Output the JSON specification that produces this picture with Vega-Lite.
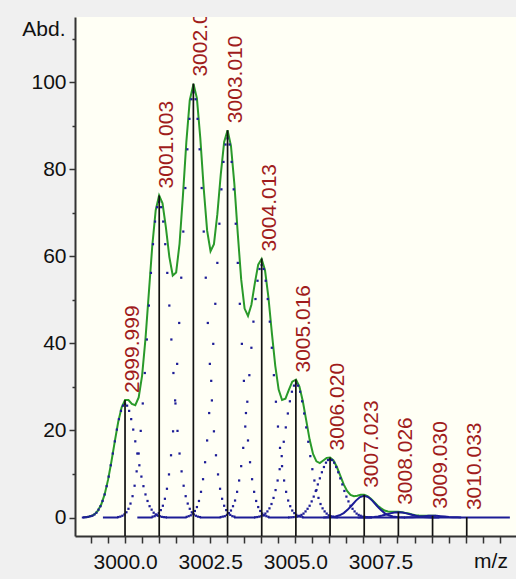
{
"$schema": "https://vega.github.io/schema/vega-lite/v6.json",
"width": 441, "height": 519,
"autosize": {"type": "none"},
"padding": {"left": 75, "top": 17, "right": 0, "bottom": 43},
"background": "#f0f0f0",
"config": {"view": {"fill": "#fffff5", "stroke": null}, "font": "Liberation Sans"},
"datasets": {
"env": [
{"x":2998.8,"y":0.04},{"x":2998.9,"y":0.12},{"x":2999.0,"y":0.31},{"x":2999.1,"y":0.73},{"x":2999.2,"y":1.54},{"x":2999.3,"y":2.98},{"x":2999.4,"y":5.3},{"x":2999.5,"y":8.64},{"x":2999.6,"y":12.87},{"x":2999.7,"y":17.54},{"x":2999.8,"y":22.0},{"x":2999.9,"y":25.3},
{"x":3000.0,"y":27.0},{"x":3000.1,"y":27.0},{"x":3000.2,"y":26.1},{"x":3000.3,"y":25.8},{"x":3000.4,"y":27.6},{"x":3000.5,"y":32.6},{"x":3000.6,"y":41.1},{"x":3000.7,"y":51.8},{"x":3000.8,"y":62.5},{"x":3000.9,"y":70.6},
{"x":3001.0,"y":74.0},{"x":3001.1,"y":72.2},{"x":3001.2,"y":66.6},{"x":3001.3,"y":59.9},{"x":3001.4,"y":55.6},{"x":3001.5,"y":56.3},{"x":3001.6,"y":62.9},{"x":3001.7,"y":74.0},{"x":3001.8,"y":86.3},{"x":3001.9,"y":95.9},
{"x":3002.01,"y":99.6},{"x":3002.11,"y":96.3},{"x":3002.21,"y":87.1},{"x":3002.31,"y":75.6},{"x":3002.41,"y":65.9},{"x":3002.51,"y":61.2},{"x":3002.61,"y":62.8},{"x":3002.71,"y":69.7},{"x":3002.81,"y":78.8},{"x":3002.91,"y":86.3},
{"x":3003.01,"y":89.0},{"x":3003.11,"y":85.4},{"x":3003.21,"y":76.6},{"x":3003.31,"y":65.2},{"x":3003.41,"y":54.7},{"x":3003.51,"y":48.0},{"x":3003.61,"y":46.3},{"x":3003.71,"y":48.9},{"x":3003.81,"y":53.8},{"x":3003.91,"y":58.1},
{"x":3004.01,"y":59.4},{"x":3004.11,"y":56.8},{"x":3004.21,"y":50.6},{"x":3004.31,"y":42.5},{"x":3004.41,"y":34.9},{"x":3004.51,"y":29.4},{"x":3004.61,"y":27.0},{"x":3004.71,"y":27.3},{"x":3004.81,"y":29.3},{"x":3004.91,"y":31.2},
{"x":3005.02,"y":31.7},{"x":3005.12,"y":30.1},{"x":3005.22,"y":26.7},{"x":3005.32,"y":22.3},{"x":3005.42,"y":17.9},{"x":3005.52,"y":14.6},{"x":3005.62,"y":12.9},{"x":3005.72,"y":12.5},{"x":3005.82,"y":13.1},{"x":3005.92,"y":13.7},
{"x":3006.02,"y":13.8},{"x":3006.12,"y":13.1},{"x":3006.22,"y":11.6},{"x":3006.32,"y":9.6},{"x":3006.42,"y":7.6},{"x":3006.52,"y":6.1},{"x":3006.62,"y":5.2},{"x":3006.72,"y":4.9},{"x":3006.82,"y":5.0},{"x":3006.92,"y":5.2},
{"x":3007.02,"y":5.2},{"x":3007.12,"y":4.9},{"x":3007.22,"y":4.3},{"x":3007.32,"y":3.5},{"x":3007.42,"y":2.7},{"x":3007.52,"y":2.1},{"x":3007.62,"y":1.6},{"x":3007.72,"y":1.4},{"x":3007.82,"y":1.3},{"x":3007.92,"y":1.3},
{"x":3008.03,"y":1.3},{"x":3008.13,"y":1.2},{"x":3008.23,"y":1.05},{"x":3008.33,"y":0.9},{"x":3008.43,"y":0.7},{"x":3008.53,"y":0.54},{"x":3008.63,"y":0.45},{"x":3008.73,"y":0.41},{"x":3008.83,"y":0.41},{"x":3008.93,"y":0.41},
{"x":3009.03,"y":0.42},{"x":3009.13,"y":0.39}
],
"blines": [
{"s":"b0","x":2998.73,"y":0},{"s":"b0","x":2998.8,"y":0},
{"s":"b1","x":2999.35,"y":0},{"s":"b1","x":2999.8,"y":0},
{"s":"b2","x":3000.36,"y":0},{"s":"b2","x":3000.81,"y":0},
{"s":"b3","x":3001.2,"y":0},{"s":"b3","x":3001.81,"y":0},
{"s":"b4","x":3002.2,"y":0},{"s":"b4","x":3002.81,"y":0},
{"s":"b5","x":3003.2,"y":0},{"s":"b5","x":3003.82,"y":0},
{"s":"b6","x":3004.2,"y":0},{"s":"b6","x":3004.82,"y":0},
{"s":"b7","x":3005.2,"y":0},{"s":"b7","x":3011.3,"y":0},
{"s":"k7","x":3005.82,"y":0.01},{"s":"k7","x":3005.94,"y":0.03},{"s":"k7","x":3006.06,"y":0.09},{"s":"k7","x":3006.18,"y":0.22},{"s":"k7","x":3006.3,"y":0.51},{"s":"k7","x":3006.42,"y":1.02},{"s":"k7","x":3006.54,"y":1.81},{"s":"k7","x":3006.66,"y":2.82},{"s":"k7","x":3006.78,"y":3.88},{"s":"k7","x":3006.9,"y":4.69},{"s":"k7","x":3007.02,"y":5.0},{"s":"k7","x":3007.14,"y":4.69},{"s":"k7","x":3007.26,"y":3.88},{"s":"k7","x":3007.38,"y":2.82},{"s":"k7","x":3007.5,"y":1.81},{"s":"k7","x":3007.62,"y":1.02},{"s":"k7","x":3007.74,"y":0.51},{"s":"k7","x":3007.86,"y":0.22},{"s":"k7","x":3007.98,"y":0.09},{"s":"k7","x":3008.1,"y":0.03},{"s":"k7","x":3008.22,"y":0.01},
{"s":"k8","x":3006.83,"y":0},{"s":"k8","x":3006.95,"y":0.01},{"s":"k8","x":3007.07,"y":0.02},{"s":"k8","x":3007.19,"y":0.05},{"s":"k8","x":3007.31,"y":0.12},{"s":"k8","x":3007.43,"y":0.25},{"s":"k8","x":3007.55,"y":0.44},{"s":"k8","x":3007.67,"y":0.69},{"s":"k8","x":3007.79,"y":0.95},{"s":"k8","x":3007.91,"y":1.15},{"s":"k8","x":3008.03,"y":1.23},{"s":"k8","x":3008.15,"y":1.15},{"s":"k8","x":3008.27,"y":0.95},{"s":"k8","x":3008.39,"y":0.69},{"s":"k8","x":3008.51,"y":0.44},{"s":"k8","x":3008.63,"y":0.25},{"s":"k8","x":3008.75,"y":0.12},{"s":"k8","x":3008.87,"y":0.05},{"s":"k8","x":3008.99,"y":0.02},{"s":"k8","x":3009.11,"y":0.01},{"s":"k8","x":3009.23,"y":0},
{"s":"k9","x":3008.19,"y":0},{"s":"k9","x":3008.31,"y":0.04},{"s":"k9","x":3008.43,"y":0.08},{"s":"k9","x":3008.55,"y":0.14},{"s":"k9","x":3008.67,"y":0.23},{"s":"k9","x":3008.79,"y":0.31},{"s":"k9","x":3008.91,"y":0.38},{"s":"k9","x":3009.03,"y":0.4},{"s":"k9","x":3009.15,"y":0.38},{"s":"k9","x":3009.27,"y":0.31},{"s":"k9","x":3009.39,"y":0.23},{"s":"k9","x":3009.51,"y":0.14},{"s":"k9","x":3009.63,"y":0.08},{"s":"k9","x":3009.75,"y":0.04},{"s":"k9","x":3009.87,"y":0}
],
"dots": [
{"g":0,"x":2998.8,"y":0.04},{"g":0,"x":2998.86,"y":0.08},{"g":0,"x":2998.92,"y":0.15},{"g":0,"x":2998.98,"y":0.3},{"g":0,"x":2999.04,"y":0.4},{"g":0,"x":2999.1,"y":0.7},{"g":0,"x":2999.16,"y":1.1},{"g":0,"x":2999.22,"y":1.8},{"g":0,"x":2999.28,"y":2.6},{"g":0,"x":2999.34,"y":3.8},{"g":0,"x":2999.4,"y":5.3},{"g":0,"x":2999.46,"y":7.2},{"g":0,"x":2999.52,"y":9.4},{"g":0,"x":2999.58,"y":12.0},{"g":0,"x":2999.64,"y":14.7},{"g":0,"x":2999.7,"y":17.5},{"g":0,"x":2999.76,"y":20.2},{"g":0,"x":2999.82,"y":22.6},{"g":0,"x":2999.88,"y":24.5},{"g":0,"x":2999.94,"y":25.7},{"g":0,"x":3000.0,"y":26.1},{"g":0,"x":3000.06,"y":25.7},{"g":0,"x":3000.12,"y":24.5},{"g":0,"x":3000.18,"y":22.6},{"g":0,"x":3000.24,"y":20.2},{"g":0,"x":3000.3,"y":17.5},{"g":0,"x":3000.36,"y":14.7},{"g":0,"x":3000.42,"y":12.0},{"g":0,"x":3000.48,"y":9.4},{"g":0,"x":3000.54,"y":7.2},{"g":0,"x":3000.6,"y":5.3},{"g":0,"x":3000.66,"y":3.8},{"g":0,"x":3000.72,"y":2.6},{"g":0,"x":3000.78,"y":1.8},{"g":0,"x":3000.84,"y":1.1},{"g":0,"x":3000.9,"y":0.7},{"g":0,"x":3000.96,"y":0.4},{"g":0,"x":3001.02,"y":0.3},{"g":0,"x":3001.08,"y":0.15},{"g":0,"x":3001.14,"y":0.08},{"g":0,"x":3001.2,"y":0.04},
{"g":1,"x":2999.8,"y":0.1},{"g":1,"x":2999.86,"y":0.2},{"g":1,"x":2999.92,"y":0.4},{"g":1,"x":2999.98,"y":0.7},{"g":1,"x":3000.04,"y":1.2},{"g":1,"x":3000.1,"y":2.0},{"g":1,"x":3000.16,"y":3.2},{"g":1,"x":3000.22,"y":4.9},{"g":1,"x":3000.28,"y":7.3},{"g":1,"x":3000.34,"y":10.6},{"g":1,"x":3000.4,"y":14.7},{"g":1,"x":3000.46,"y":19.9},{"g":1,"x":3000.52,"y":26.2},{"g":1,"x":3000.58,"y":33.2},{"g":1,"x":3000.64,"y":40.9},{"g":1,"x":3000.7,"y":48.7},{"g":1,"x":3000.76,"y":56.2},{"g":1,"x":3000.82,"y":62.8},{"g":1,"x":3000.88,"y":68.0},{"g":1,"x":3000.94,"y":71.3},{"g":1,"x":3001.0,"y":72.5},{"g":1,"x":3001.06,"y":71.3},{"g":1,"x":3001.12,"y":68.0},{"g":1,"x":3001.18,"y":62.8},{"g":1,"x":3001.24,"y":56.2},{"g":1,"x":3001.3,"y":48.7},{"g":1,"x":3001.36,"y":40.9},{"g":1,"x":3001.42,"y":33.2},{"g":1,"x":3001.48,"y":26.2},{"g":1,"x":3001.54,"y":19.9},{"g":1,"x":3001.6,"y":14.7},{"g":1,"x":3001.66,"y":10.6},{"g":1,"x":3001.72,"y":7.3},{"g":1,"x":3001.78,"y":4.9},{"g":1,"x":3001.84,"y":3.2},{"g":1,"x":3001.9,"y":2.0},{"g":1,"x":3001.96,"y":1.2},{"g":1,"x":3002.02,"y":0.7},{"g":1,"x":3002.08,"y":0.4},{"g":1,"x":3002.14,"y":0.2},{"g":1,"x":3002.2,"y":0.1},
{"g":2,"x":3000.81,"y":0.2},{"g":2,"x":3000.87,"y":0.3},{"g":2,"x":3000.93,"y":0.6},{"g":2,"x":3000.99,"y":1.0},{"g":2,"x":3001.05,"y":1.7},{"g":2,"x":3001.11,"y":2.7},{"g":2,"x":3001.17,"y":4.3},{"g":2,"x":3001.23,"y":6.6},{"g":2,"x":3001.29,"y":9.9},{"g":2,"x":3001.35,"y":14.3},{"g":2,"x":3001.41,"y":19.8},{"g":2,"x":3001.47,"y":26.9},{"g":2,"x":3001.53,"y":35.3},{"g":2,"x":3001.59,"y":44.7},{"g":2,"x":3001.65,"y":55.1},{"g":2,"x":3001.71,"y":65.7},{"g":2,"x":3001.77,"y":75.7},{"g":2,"x":3001.83,"y":84.6},{"g":2,"x":3001.89,"y":91.6},{"g":2,"x":3001.95,"y":96.1},{"g":2,"x":3002.01,"y":97.7},{"g":2,"x":3002.07,"y":96.1},{"g":2,"x":3002.13,"y":91.6},{"g":2,"x":3002.19,"y":84.6},{"g":2,"x":3002.25,"y":75.7},{"g":2,"x":3002.31,"y":65.7},{"g":2,"x":3002.37,"y":55.1},{"g":2,"x":3002.43,"y":44.7},{"g":2,"x":3002.49,"y":35.3},{"g":2,"x":3002.55,"y":26.9},{"g":2,"x":3002.61,"y":19.8},{"g":2,"x":3002.67,"y":14.3},{"g":2,"x":3002.73,"y":9.9},{"g":2,"x":3002.79,"y":6.6},{"g":2,"x":3002.85,"y":4.3},{"g":2,"x":3002.91,"y":2.7},{"g":2,"x":3002.97,"y":1.7},{"g":2,"x":3003.03,"y":1.0},{"g":2,"x":3003.09,"y":0.6},{"g":2,"x":3003.15,"y":0.3},{"g":2,"x":3003.21,"y":0.2},
{"g":3,"x":3001.81,"y":0.15},{"g":3,"x":3001.87,"y":0.3},{"g":3,"x":3001.93,"y":0.5},{"g":3,"x":3001.99,"y":0.9},{"g":3,"x":3002.05,"y":1.5},{"g":3,"x":3002.11,"y":2.4},{"g":3,"x":3002.17,"y":3.8},{"g":3,"x":3002.23,"y":5.9},{"g":3,"x":3002.29,"y":8.8},{"g":3,"x":3002.35,"y":12.7},{"g":3,"x":3002.41,"y":17.7},{"g":3,"x":3002.47,"y":24.0},{"g":3,"x":3002.53,"y":31.4},{"g":3,"x":3002.59,"y":39.9},{"g":3,"x":3002.65,"y":49.1},{"g":3,"x":3002.71,"y":58.5},{"g":3,"x":3002.77,"y":67.5},{"g":3,"x":3002.83,"y":75.4},{"g":3,"x":3002.89,"y":81.7},{"g":3,"x":3002.95,"y":85.7},{"g":3,"x":3003.01,"y":87.1},{"g":3,"x":3003.07,"y":85.7},{"g":3,"x":3003.13,"y":81.7},{"g":3,"x":3003.19,"y":75.4},{"g":3,"x":3003.25,"y":67.5},{"g":3,"x":3003.31,"y":58.5},{"g":3,"x":3003.37,"y":49.1},{"g":3,"x":3003.43,"y":39.9},{"g":3,"x":3003.49,"y":31.4},{"g":3,"x":3003.55,"y":24.0},{"g":3,"x":3003.61,"y":17.7},{"g":3,"x":3003.67,"y":12.7},{"g":3,"x":3003.73,"y":8.8},{"g":3,"x":3003.79,"y":5.9},{"g":3,"x":3003.85,"y":3.8},{"g":3,"x":3003.91,"y":2.4},{"g":3,"x":3003.97,"y":1.5},{"g":3,"x":3004.03,"y":0.9},{"g":3,"x":3004.09,"y":0.5},{"g":3,"x":3004.15,"y":0.3},{"g":3,"x":3004.21,"y":0.15},
{"g":4,"x":3002.81,"y":0.1},{"g":4,"x":3002.87,"y":0.2},{"g":4,"x":3002.93,"y":0.3},{"g":4,"x":3002.99,"y":0.6},{"g":4,"x":3003.05,"y":1.0},{"g":4,"x":3003.11,"y":1.6},{"g":4,"x":3003.17,"y":2.6},{"g":4,"x":3003.23,"y":3.9},{"g":4,"x":3003.29,"y":5.9},{"g":4,"x":3003.35,"y":8.5},{"g":4,"x":3003.41,"y":11.8},{"g":4,"x":3003.47,"y":16.0},{"g":4,"x":3003.53,"y":20.9},{"g":4,"x":3003.59,"y":26.6},{"g":4,"x":3003.65,"y":32.7},{"g":4,"x":3003.71,"y":39.0},{"g":4,"x":3003.77,"y":45.0},{"g":4,"x":3003.83,"y":50.2},{"g":4,"x":3003.89,"y":54.4},{"g":4,"x":3003.95,"y":57.1},{"g":4,"x":3004.01,"y":58.0},{"g":4,"x":3004.07,"y":57.1},{"g":4,"x":3004.13,"y":54.4},{"g":4,"x":3004.19,"y":50.2},{"g":4,"x":3004.25,"y":45.0},{"g":4,"x":3004.31,"y":39.0},{"g":4,"x":3004.37,"y":32.7},{"g":4,"x":3004.43,"y":26.6},{"g":4,"x":3004.49,"y":20.9},{"g":4,"x":3004.55,"y":16.0},{"g":4,"x":3004.61,"y":11.8},{"g":4,"x":3004.67,"y":8.5},{"g":4,"x":3004.73,"y":5.9},{"g":4,"x":3004.79,"y":3.9},{"g":4,"x":3004.85,"y":2.6},{"g":4,"x":3004.91,"y":1.6},{"g":4,"x":3004.97,"y":1.0},{"g":4,"x":3005.03,"y":0.6},{"g":4,"x":3005.09,"y":0.3},{"g":4,"x":3005.15,"y":0.2},{"g":4,"x":3005.21,"y":0.1},
{"g":5,"x":3003.82,"y":0.05},{"g":5,"x":3003.88,"y":0.1},{"g":5,"x":3003.94,"y":0.2},{"g":5,"x":3004.0,"y":0.3},{"g":5,"x":3004.06,"y":0.5},{"g":5,"x":3004.12,"y":0.9},{"g":5,"x":3004.18,"y":1.4},{"g":5,"x":3004.24,"y":2.1},{"g":5,"x":3004.3,"y":3.1},{"g":5,"x":3004.36,"y":4.5},{"g":5,"x":3004.42,"y":6.3},{"g":5,"x":3004.48,"y":8.5},{"g":5,"x":3004.54,"y":11.1},{"g":5,"x":3004.6,"y":14.1},{"g":5,"x":3004.66,"y":17.4},{"g":5,"x":3004.72,"y":20.7},{"g":5,"x":3004.78,"y":23.9},{"g":5,"x":3004.84,"y":26.7},{"g":5,"x":3004.9,"y":28.9},{"g":5,"x":3004.96,"y":30.3},{"g":5,"x":3005.02,"y":30.8},{"g":5,"x":3005.08,"y":30.3},{"g":5,"x":3005.14,"y":28.9},{"g":5,"x":3005.2,"y":26.7},{"g":5,"x":3005.26,"y":23.9},{"g":5,"x":3005.32,"y":20.7},{"g":5,"x":3005.38,"y":17.4},{"g":5,"x":3005.44,"y":14.1},{"g":5,"x":3005.5,"y":11.1},{"g":5,"x":3005.56,"y":8.5},{"g":5,"x":3005.62,"y":6.3},{"g":5,"x":3005.68,"y":4.5},{"g":5,"x":3005.74,"y":3.1},{"g":5,"x":3005.8,"y":2.1},{"g":5,"x":3005.86,"y":1.4},{"g":5,"x":3005.92,"y":0.9},{"g":5,"x":3005.98,"y":0.5},{"g":5,"x":3006.04,"y":0.3},{"g":5,"x":3006.1,"y":0.2},{"g":5,"x":3006.16,"y":0.1},{"g":5,"x":3006.22,"y":0.05},
{"g":6,"x":3004.82,"y":0.02},{"g":6,"x":3004.88,"y":0.04},{"g":6,"x":3004.94,"y":0.08},{"g":6,"x":3005.0,"y":0.13},{"g":6,"x":3005.06,"y":0.2},{"g":6,"x":3005.12,"y":0.4},{"g":6,"x":3005.18,"y":0.6},{"g":6,"x":3005.24,"y":0.9},{"g":6,"x":3005.3,"y":1.4},{"g":6,"x":3005.36,"y":2.0},{"g":6,"x":3005.42,"y":2.7},{"g":6,"x":3005.48,"y":3.7},{"g":6,"x":3005.54,"y":4.8},{"g":6,"x":3005.6,"y":6.1},{"g":6,"x":3005.66,"y":7.6},{"g":6,"x":3005.72,"y":9.0},{"g":6,"x":3005.78,"y":10.4},{"g":6,"x":3005.84,"y":11.6},{"g":6,"x":3005.9,"y":12.6},{"g":6,"x":3005.96,"y":13.2},{"g":6,"x":3006.02,"y":13.4},{"g":6,"x":3006.08,"y":13.2},{"g":6,"x":3006.14,"y":12.6},{"g":6,"x":3006.2,"y":11.6},{"g":6,"x":3006.26,"y":10.4},{"g":6,"x":3006.32,"y":9.0},{"g":6,"x":3006.38,"y":7.6},{"g":6,"x":3006.44,"y":6.1},{"g":6,"x":3006.5,"y":4.8},{"g":6,"x":3006.56,"y":3.7},{"g":6,"x":3006.62,"y":2.7},{"g":6,"x":3006.68,"y":2.0},{"g":6,"x":3006.74,"y":1.4},{"g":6,"x":3006.8,"y":0.9},{"g":6,"x":3006.86,"y":0.6},{"g":6,"x":3006.92,"y":0.4},{"g":6,"x":3006.98,"y":0.2},{"g":6,"x":3007.04,"y":0.13},{"g":6,"x":3007.1,"y":0.08},{"g":6,"x":3007.16,"y":0.04},{"g":6,"x":3007.22,"y":0.02}
],
"sticks": [
{"x":2999.999,"h":27.0,"lab":"2999.999"},
{"x":3001.003,"h":74.0,"lab":"3001.003"},
{"x":3002.006,"h":99.7,"lab":"3002.006"},
{"x":3003.010,"h":89.0,"lab":"3003.010"},
{"x":3004.013,"h":59.5,"lab":"3004.013"},
{"x":3005.016,"h":31.7,"lab":"3005.016"},
{"x":3006.020,"h":13.8,"lab":"3006.020"},
{"x":3007.023,"h":5.2,"lab":"3007.023"},
{"x":3008.026,"h":1.3,"lab":"3008.026"},
{"x":3009.030,"h":0.4,"lab":"3009.030"},
{"x":3010.033,"h":0.1,"lab":"3010.033"}
]
},
"layer": [
{
"data": {"name": "env"},
"mark": {"type": "line", "color": "#2a9a2a", "strokeWidth": 2},
"encoding": {
"x": {"field": "x", "type": "quantitative", "scale": {"domain": [2998.53, 3011.48], "nice": false, "zero": false},
"axis": {"values": [2999,2999.5,3000,3000.5,3001,3001.5,3002,3002.5,3003,3003.5,3004,3004.5,3005,3005.5,3006,3006.5,3007,3007.5,3008,3008.5,3009,3009.5,3010,3010.5,3011],
"tickCount": 40,
"labelExpr": "indexof([3000,3002.5,3005,3007.5], datum.value) >= 0 ? format(datum.value, '.1f') : ''",
"grid": false, "tickSize": 7, "tickColor": "#333", "tickWidth": 1.5, "domainColor": "#333", "domainWidth": 2,
"labelFont": "Liberation Sans", "labelFontSize": 21, "labelColor": "#111", "labelPadding": 8, "labelFlush": false, "labelOverlap": false, "labelBound": false,
"title": "m/z", "titleFont": "Liberation Sans", "titleFontSize": 21, "titleFontWeight": "normal", "titleColor": "#111", "titleX": 415.5, "titleY": 31, "titleAlign": "center", "titleBaseline": "alphabetic", "titleAngle": 0}},
"y": {"field": "y", "type": "quantitative", "scale": {"domain": [-4.25, 115], "nice": false, "zero": false},
"axis": {"values": [0,10,20,30,40,50,60,70,80,90,100,110],
"tickCount": 40,
"labelExpr": "datum.value % 20 === 0 && datum.value <= 100 ? datum.label : ''",
"grid": false, "tickSize": {"condition": {"test": "datum.value % 20 === 0", "value": 6}, "value": 3}, "tickColor": "#333", "tickWidth": 1.5, "domainColor": "#333", "domainWidth": 2,
"labelFont": "Liberation Sans", "labelFontSize": 21, "labelColor": "#111", "labelPadding": 3, "labelOverlap": false, "labelBound": false, "labelFlush": false,
"title": "Abd.", "titleFont": "Liberation Sans", "titleFontSize": 21, "titleFontWeight": "normal", "titleColor": "#111", "titleAngle": 0, "titleAlign": "right", "titleBaseline": "alphabetic", "titleX": -10, "titleY": 18}}
}
},
{
"data": {"name": "blines"},
"mark": {"type": "line", "color": "#1c1c96", "strokeWidth": 2},
"encoding": {
"x": {"field": "x", "type": "quantitative", "scale": {"domain": [2998.53, 3011.48], "nice": false, "zero": false}},
"y": {"field": "y", "type": "quantitative", "scale": {"domain": [-4.25, 115], "nice": false, "zero": false}},
"detail": {"field": "s", "type": "nominal"}
}
},
{
"data": {"name": "dots"},
"mark": {"type": "square", "size": 5, "color": "#1c1c96", "opacity": 1, "filled": true},
"encoding": {
"x": {"field": "x", "type": "quantitative", "scale": {"domain": [2998.53, 3011.48], "nice": false, "zero": false}},
"y": {"field": "y", "type": "quantitative", "scale": {"domain": [-4.25, 115], "nice": false, "zero": false}},
"detail": {"field": "g", "type": "nominal"}
}
},
{
"mark": {"type": "rule", "color": "#333", "strokeWidth": 2},
"encoding": {"y": {"datum": 115, "type": "quantitative", "scale": {"domain": [-4.25, 115], "nice": false, "zero": false}}}
},
{
"data": {"name": "sticks"},
"mark": {"type": "rule", "color": "#111", "strokeWidth": 1.7},
"encoding": {
"x": {"field": "x", "type": "quantitative", "scale": {"domain": [2998.53, 3011.48], "nice": false, "zero": false}},
"y": {"field": "h", "type": "quantitative", "scale": {"domain": [-4.25, 115], "nice": false, "zero": false}},
"y2": {"datum": -4.25}
}
},
{
"data": {"name": "sticks"},
"mark": {"type": "text", "angle": 270, "align": "left", "baseline": "top", "dx": 7, "dy": -3, "clip": true, "font": "Liberation Sans", "fontSize": 21, "color": "#a01c1c"},
"encoding": {
"x": {"field": "x", "type": "quantitative", "scale": {"domain": [2998.53, 3011.48], "nice": false, "zero": false}},
"y": {"field": "h", "type": "quantitative", "scale": {"domain": [-4.25, 115], "nice": false, "zero": false}},
"text": {"field": "lab", "type": "nominal"}
}
}
]
}
